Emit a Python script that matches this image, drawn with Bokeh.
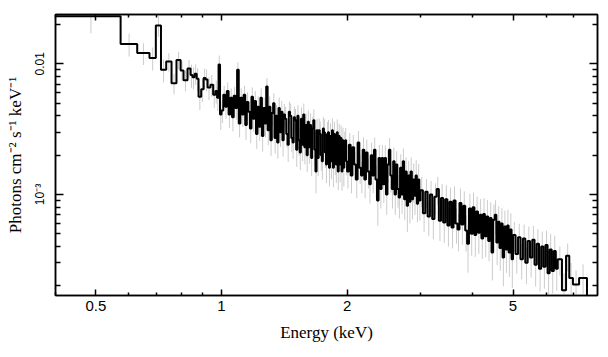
from bokeh.plotting import figure
from bokeh.models import FixedTicker, LogAxis, CustomJSTickFormatter, Range1d
from bokeh.embed import file_html
from bokeh.resources import INLINE

# ---- data: energy bin edges (keV), flux per bin, relative error per bin ----
bin_edges_kev = [
    0.400, 0.573, 0.628, 0.672, 0.696, 0.716,
    0.737, 0.759, 0.780, 0.798, 0.811, 0.829, 0.843, 0.852, 0.862, 0.872, 0.881,
    0.894, 0.906, 0.916, 0.926, 0.941, 0.955, 0.967, 0.976, 0.984, 0.992,
    1.00, 1.01, 1.02, 1.03, 1.04, 1.05, 1.06, 1.07, 1.08, 1.09,
    1.10, 1.11, 1.12, 1.13, 1.14, 1.15, 1.16, 1.17, 1.18, 1.19,
    1.20, 1.21, 1.22, 1.23, 1.24, 1.25, 1.26, 1.27, 1.28, 1.29,
    1.30, 1.31, 1.32, 1.33, 1.34, 1.35, 1.36, 1.37, 1.38, 1.39,
    1.40, 1.41, 1.42, 1.43, 1.44, 1.45, 1.46, 1.47, 1.48, 1.49,
    1.50, 1.51, 1.52, 1.53, 1.54, 1.55, 1.56, 1.57, 1.58, 1.59,
    1.60, 1.61, 1.62, 1.63, 1.64, 1.65, 1.66, 1.67, 1.68, 1.69,
    1.70, 1.71, 1.72, 1.73, 1.74, 1.75, 1.76, 1.77, 1.78, 1.79,
    1.80, 1.81, 1.82, 1.83, 1.84, 1.85, 1.86, 1.87, 1.88, 1.89,
    1.90, 1.91, 1.92, 1.93, 1.94, 1.95, 1.96, 1.97, 1.98, 1.99,
    2.00, 2.02, 2.04, 2.06, 2.08, 2.10, 2.12, 2.14, 2.16, 2.18,
    2.20, 2.22, 2.24, 2.26, 2.28, 2.30, 2.32, 2.34, 2.36, 2.38,
    2.40, 2.42, 2.44, 2.46, 2.48, 2.50, 2.52, 2.54, 2.56, 2.58,
    2.60, 2.62, 2.64, 2.66, 2.68, 2.70, 2.72, 2.74, 2.76, 2.78,
    2.80, 2.82, 2.84, 2.86, 2.88, 2.90, 2.92, 2.94, 2.96, 2.98,
    3.00, 3.04, 3.08, 3.12, 3.16, 3.20, 3.24, 3.28, 3.32, 3.36,
    3.40, 3.44, 3.48, 3.52, 3.56, 3.60, 3.64, 3.68, 3.72, 3.76,
    3.80, 3.84, 3.88, 3.92, 3.96, 4.00, 4.04, 4.08, 4.12, 4.16,
    4.20, 4.24, 4.28, 4.32, 4.36, 4.40, 4.44, 4.48, 4.52, 4.56,
    4.60, 4.64, 4.68, 4.72, 4.76, 4.80, 4.84, 4.88, 4.92, 4.96,
    5.00, 5.07, 5.14, 5.21, 5.28, 5.35, 5.42, 5.49, 5.56, 5.63,
    5.70, 5.77, 5.84, 5.91, 5.98, 6.05, 6.12, 6.19, 6.26, 6.33,
    6.40, 6.55, 6.70, 6.82, 6.96, 7.20, 7.52,
]

flux = [
    0.0231, 0.0142, 0.0121, 0.0111, 0.0196, 0.0090,
    0.0104, 0.0071, 0.0107, 0.0089, 0.0075, 0.0092, 0.0082, 0.0079, 0.0084, 0.0077,
    0.0056, 0.0064, 0.0078, 0.0076, 0.0066, 0.0069, 0.0058, 0.0062, 0.0055, 0.0099, 0.0041,
    # 1.00 - 2.00 keV
    0.0044, 0.0058, 0.0047, 0.0062, 0.0041, 0.0055, 0.0039, 0.0057, 0.0046, 0.0090,
    0.0035, 0.0055, 0.0041, 0.0058, 0.0034, 0.0051, 0.0043, 0.0032, 0.0056, 0.0038,
    0.0052, 0.0029, 0.0047, 0.0033, 0.0055, 0.0028, 0.0046, 0.0035, 0.0067, 0.0031,
    0.0047, 0.0026, 0.0042, 0.0050, 0.0027, 0.0040, 0.0025, 0.0046, 0.0030, 0.0043,
    0.0026, 0.0041, 0.0038, 0.0029, 0.0024, 0.0043, 0.0040, 0.0027, 0.0025, 0.0039,
    0.0037, 0.0022, 0.0040, 0.0026, 0.0021, 0.0038, 0.0024, 0.0041, 0.0023, 0.0034,
    0.0020, 0.0036, 0.0023, 0.0034, 0.0019, 0.0032, 0.0037, 0.0022, 0.0015, 0.0031,
    0.0019, 0.0031, 0.0029, 0.0020, 0.0018, 0.0032, 0.0030, 0.0021, 0.0017, 0.0029,
    0.0030, 0.0016, 0.0028, 0.0018, 0.0031, 0.0016, 0.0029, 0.0019, 0.0017, 0.0030,
    0.0015, 0.0028, 0.0017, 0.0027, 0.0015, 0.0026, 0.0016, 0.0024, 0.0026, 0.0018,
    # 2.00 - 3.00 keV
    0.0015, 0.0024, 0.0014, 0.0023, 0.0017, 0.0013, 0.0025, 0.0016, 0.0014, 0.0022,
    0.0013, 0.0021, 0.0015, 0.0012, 0.0020, 0.0014, 0.0022, 0.0013, 0.00090, 0.0019,
    0.0011, 0.0019, 0.0012, 0.0019, 0.0010, 0.0017, 0.0022, 0.0014, 0.0011, 0.0018,
    0.0010, 0.0017, 0.0011, 0.00095, 0.0016, 0.0010, 0.0018, 0.00092, 0.0015, 0.00082,
    0.0014, 0.00088, 0.0015, 0.00092, 0.0013, 0.00098, 0.0014, 0.00085, 0.0013, 0.00090,
    # 3.00 - 5.00 keV
    1.08e-3, 7.2e-4, 1.05e-3, 6.8e-4, 1.00e-3, 6.5e-4, 9.6e-4, 1.10e-3, 6.3e-4, 9.4e-4,
    6.1e-4, 9.2e-4, 5.8e-4, 8.8e-4, 5.6e-4, 9.0e-4, 6.0e-4, 5.4e-4, 8.6e-4, 5.9e-4,
    8.2e-4, 5.3e-4, 4.2e-4, 7.8e-4, 5.0e-4, 8.0e-4, 4.9e-4, 7.4e-4, 5.1e-4, 7.0e-4,
    4.6e-4, 7.1e-4, 4.8e-4, 6.8e-4, 4.4e-4, 6.6e-4, 3.6e-4, 6.4e-4, 7.0e-4, 4.3e-4,
    6.2e-4, 3.9e-4, 6.0e-4, 3.3e-4, 5.7e-4, 3.8e-4, 5.8e-4, 3.6e-4, 5.4e-4, 3.2e-4,
    # 5.00 - 6.40 keV
    4.9e-4, 3.5e-4, 4.7e-4, 3.2e-4, 4.6e-4, 3.0e-4, 4.4e-4, 3.3e-4, 4.5e-4, 2.9e-4,
    4.2e-4, 2.7e-4, 4.0e-4, 2.8e-4, 4.1e-4, 2.5e-4, 3.8e-4, 2.6e-4, 3.7e-4, 2.7e-4,
    # 6.40 - 7.52 keV
    3.2e-4, 1.85e-4, 3.4e-4, 2.3e-4, 2.05e-4, 2.3e-4,
]

rel_err = [
    0.26, 0.20, 0.19, 0.20, 0.18, 0.20,
    0.16, 0.18, 0.15, 0.17, 0.18, 0.16, 0.20, 0.19, 0.18, 0.20, 0.21,
    0.20, 0.18, 0.19, 0.20, 0.19, 0.21, 0.20, 0.21, 0.17, 0.24,
    0.20, 0.17, 0.19, 0.16, 0.21, 0.18, 0.22, 0.17, 0.19, 0.14,
    0.22, 0.18, 0.20, 0.17, 0.23, 0.19, 0.20, 0.23, 0.18, 0.21,
    0.19, 0.23, 0.20, 0.22, 0.18, 0.24, 0.20, 0.22, 0.16, 0.23,
    0.20, 0.24, 0.21, 0.19, 0.24, 0.21, 0.25, 0.20, 0.23, 0.21,
    0.25, 0.20, 0.23, 0.21, 0.26, 0.20, 0.24, 0.22, 0.25, 0.21,
    0.22, 0.26, 0.21, 0.24, 0.27, 0.22, 0.25, 0.21, 0.26, 0.23,
    0.26, 0.22, 0.25, 0.23, 0.27, 0.23, 0.21, 0.25, 0.32, 0.23,
    0.27, 0.23, 0.25, 0.24, 0.28, 0.22, 0.26, 0.24, 0.28, 0.24,
    0.24, 0.28, 0.25, 0.27, 0.23, 0.29, 0.24, 0.26, 0.28, 0.25,
    0.28, 0.24, 0.27, 0.25, 0.29, 0.25, 0.28, 0.26, 0.24, 0.22,
    0.26, 0.23, 0.27, 0.24, 0.25, 0.28, 0.22, 0.25, 0.27, 0.24,
    0.28, 0.25, 0.26, 0.29, 0.25, 0.27, 0.24, 0.28, 0.36, 0.26,
    0.29, 0.26, 0.28, 0.25, 0.30, 0.27, 0.23, 0.26, 0.29, 0.27,
    0.30, 0.26, 0.28, 0.31, 0.27, 0.29, 0.25, 0.31, 0.28, 0.37,
    0.29, 0.32, 0.28, 0.30, 0.33, 0.29, 0.31, 0.28, 0.32, 0.30,
    0.26, 0.28, 0.25, 0.29, 0.27, 0.30, 0.27, 0.24, 0.30, 0.28,
    0.30, 0.28, 0.31, 0.28, 0.31, 0.28, 0.30, 0.32, 0.29, 0.30,
    0.29, 0.31, 0.40, 0.30, 0.32, 0.29, 0.32, 0.30, 0.31, 0.32,
    0.30, 0.32, 0.31, 0.33, 0.30, 0.32, 0.39, 0.31, 0.29, 0.33,
    0.31, 0.33, 0.31, 0.40, 0.32, 0.34, 0.32, 0.35, 0.33, 0.40,
    0.26, 0.29, 0.27, 0.30, 0.28, 0.31, 0.29, 0.30, 0.28, 0.32,
    0.29, 0.33, 0.30, 0.32, 0.29, 0.34, 0.31, 0.33, 0.31, 0.32,
    0.25, 0.35, 0.24, 0.30, 0.28, 0.27,
]

x_major_ticks = [0.5, 1, 2, 5]
x_minor_ticks = [0.4, 0.6, 0.7, 0.8, 0.9, 3, 4, 6, 7]
y_major_ticks = [0.001, 0.01]
y_minor_ticks = [2e-4, 3e-4, 4e-4, 5e-4, 6e-4, 7e-4, 8e-4, 9e-4,
                 2e-3, 3e-3, 4e-3, 5e-3, 6e-3, 7e-3, 8e-3, 9e-3, 0.02]

x_lim = (0.4, 7.97)
y_lim = (1.687e-4, 0.02384)

n = min(len(flux), len(rel_err), len(bin_edges_kev) - 1)

# ---- figure ----
p = figure(width=608, height=357, x_axis_type="log", y_axis_type="log",
           x_range=Range1d(*x_lim), y_range=Range1d(*y_lim),
           output_backend="svg", toolbar_location=None,
           min_border_left=55, min_border_right=11, min_border_top=14,
           min_border_bottom=62)
p.grid.visible = False
p.outline_line_color = "black"
p.outline_line_width = 1.5
p.background_fill_color = "white"
p.border_fill_color = "white"

bottom = p.below[0]
left = p.left[0]

# error bars (grey) at bin centres
xc = [0.5 * (bin_edges_kev[i] + bin_edges_kev[i + 1]) for i in range(n)]
lo = [flux[i] * (1 - rel_err[i]) for i in range(n)]
hi = [flux[i] * (1 + rel_err[i]) for i in range(n)]
p.segment(x0=xc, y0=lo, x1=xc, y1=hi, line_color="#cccccc", line_width=1)

# histogram step line
xs, ys = [], []
for i in range(n):
    xs += [bin_edges_kev[i], bin_edges_kev[i + 1]]
    ys += [flux[i], flux[i]]
xs.append(bin_edges_kev[n])
ys.append(y_lim[0] * 0.5)
p.line(xs, ys, line_color="black", line_width=2)

# ---- axes ----
xt = FixedTicker(ticks=x_major_ticks, minor_ticks=x_minor_ticks)
yt = FixedTicker(ticks=y_major_ticks, minor_ticks=y_minor_ticks)
blank = CustomJSTickFormatter(code="return '';")

bottom.ticker = xt
left.ticker = yt
bottom.formatter = CustomJSTickFormatter(code="return tick.toString();")
left.formatter = CustomJSTickFormatter(
    code="if (Math.abs(tick - 0.01) < 1e-6) { return '0.01'; } return '10\u207b\u00b3';")

top = LogAxis(ticker=xt, formatter=blank)
right = LogAxis(ticker=yt, formatter=blank)
p.add_layout(top, "above")
p.add_layout(right, "right")

for ax in [bottom, top]:
    ax.major_tick_in = 6
    ax.major_tick_out = 0
    ax.minor_tick_in = 3
    ax.minor_tick_out = 0
for ax in [left, right]:
    ax.major_tick_in = 8
    ax.major_tick_out = 0
    ax.minor_tick_in = 5
    ax.minor_tick_out = 0
for ax in [bottom, top, left, right]:
    ax.axis_line_color = "black"
    ax.axis_line_width = 1.5
    ax.major_tick_line_color = "black"
    ax.major_tick_line_width = 1.5
    ax.minor_tick_line_color = "black"
    ax.minor_tick_line_width = 1.5

bottom.major_label_text_font = "Liberation Sans"
bottom.major_label_text_font_size = "15px"
bottom.major_label_text_color = "black"
bottom.major_label_standoff = 5
bottom.axis_label = "Energy (keV)"
bottom.axis_label_text_font = "Liberation Serif"
bottom.axis_label_text_font_style = "normal"
bottom.axis_label_text_font_size = "17px"
bottom.axis_label_text_color = "black"
bottom.axis_label_standoff = 9

left.major_label_text_font = "Liberation Sans"
left.major_label_text_font_size = "12px"
left.major_label_text_color = "black"
left.major_label_orientation = "vertical"
left.major_label_standoff = 8
left.axis_label = "Photons cm\u207b\u00b2 s\u207b\u00b9 keV\u207b\u00b9"
left.axis_label_text_font = "Liberation Serif"
left.axis_label_text_font_style = "normal"
left.axis_label_text_font_size = "17px"
left.axis_label_text_color = "black"
left.axis_label_standoff = 6

open("out.html", "w").write(file_html(p, INLINE))
